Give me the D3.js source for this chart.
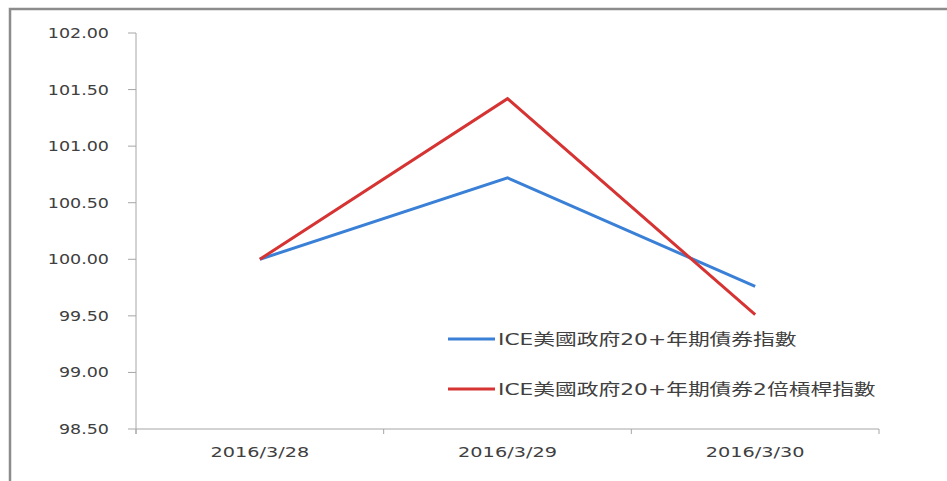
<!DOCTYPE html>
<html lang="zh-Hant">
<head>
  <meta charset="UTF-8">
  <title>ICE 20+ Index</title>
  <style>
    html, body { margin: 0; padding: 0; background: #fff; }
    svg text { font-family: "DejaVu Sans", "Noto Sans CJK TC", sans-serif; fill: #404040; }
  </style>
</head>
<body>
  <svg id="chart"></svg>

  <script src="https://d3js.org/d3.v7.min.js"></script>
  <script>
    const dates = ['2016/3/28', '2016/3/29', '2016/3/30']
    const yTicks = [98.5, 99, 99.5, 100, 100.5, 101, 101.5, 102]
    const blueName = 'ICE美國政府20+年期債券指數'
    const blueValues = [100.00, 100.72, 99.76]
    const redName = 'ICE美國政府20+年期債券2倍槓桿指數'
    const redValues = [100.00, 101.42, 99.51]

    const width = 947, height = 481
    const stretch = 1.25  // the reference text is drawn wide

    const svg = d3.select('#chart').attr('width', width).attr('height', height)

    // frame: left and top only
    svg.append('path')
      .attr('d', `M10,${height} V9 H${width}`)
      .attr('fill', 'none').attr('stroke', '#8c8c8c').attr('stroke-width', 2.5)

    const x = d3.scaleBand().domain(dates).range([136, 879]).padding(0)
    const y = d3.scaleLinear().domain([98.5, 102]).range([429, 33])
    const cx = d => x(d) + x.bandwidth() / 2

    const axisColor = '#a6a6a6'

    // y axis
    svg.append('line').attr('x1', 136).attr('x2', 136).attr('y1', y(102)).attr('y2', y(98.5) + 5)
      .attr('stroke', axisColor)
    svg.selectAll('.ytick').data(yTicks).enter().append('line')
      .attr('x1', 128).attr('x2', 136).attr('y1', d => y(d)).attr('y2', d => y(d))
      .attr('stroke', axisColor)
    svg.selectAll('.ylab').data(yTicks).enter().append('text')
      .attr('transform', d => `translate(109,${y(d) + 5}) scale(${stretch},1)`)
      .attr('text-anchor', 'end').attr('font-size', 14)
      .text(d => d3.format('.2f')(d))

    // x axis
    svg.append('line').attr('x1', 136).attr('x2', 879).attr('y1', y(98.5)).attr('y2', y(98.5))
      .attr('stroke', axisColor)
    const bounds = dates.map(d => x(d)).concat([x.range()[1]])
    svg.selectAll('.xtick').data(bounds).enter().append('line')
      .attr('x1', d => d).attr('x2', d => d).attr('y1', y(98.5)).attr('y2', y(98.5) + 5)
      .attr('stroke', axisColor)
    svg.selectAll('.xlab').data(dates).enter().append('text')
      .attr('transform', d => `translate(${cx(d)},457) scale(1.33,1)`)
      .attr('text-anchor', 'middle').attr('font-size', 14.5)
      .text(d => d)

    // lines
    const line = d3.line().x((d, i) => cx(dates[i])).y(d => y(d))
    const series = [
      { name: blueName, values: blueValues, color: '#3a80d6' },
      { name: redName, values: redValues, color: '#d63333' }
    ]
    svg.selectAll('.series').data(series).enter().append('path')
      .attr('d', d => line(d.values))
      .attr('fill', 'none').attr('stroke', d => d.color)
      .attr('stroke-width', 3).attr('stroke-linejoin', 'miter')

    // legend
    const leg = svg.selectAll('.leg').data(series).enter().append('g')
      .attr('transform', (d, i) => `translate(448,${339 + i * 50})`)
    leg.append('line').attr('x1', 0).attr('x2', 47).attr('y1', 0).attr('y2', 0)
      .attr('stroke', d => d.color).attr('stroke-width', 3)
    leg.append('text')
      .attr('transform', `translate(50,6) scale(1.36,1)`)
      .attr('font-size', 16)
      .text(d => d.name)
  </script>
</body>
</html>
